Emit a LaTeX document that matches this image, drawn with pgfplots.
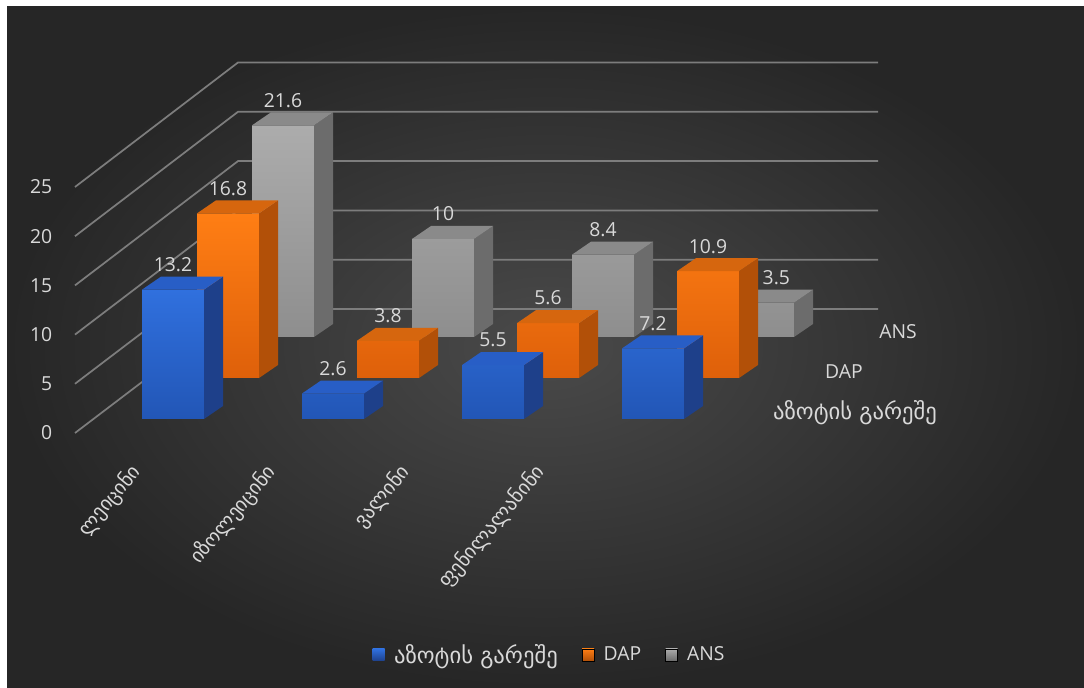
\documentclass[border=0pt]{standalone}
\usepackage{pgfplots}
\usepackage{pgfplotstable}
\pgfplotsset{compat=1.18}
\usepackage{fontspec}
\setmainfont{Open Sans}
\newfontfamily\geo{DejaVu Sans}

\definecolor{txt}{RGB}{217,217,217}
\definecolor{gridc}{RGB}{125,125,125}
\definecolor{bgin}{RGB}{74,74,74}
\definecolor{bgout}{RGB}{38,38,38}
% blue
\definecolor{bT}{RGB}{48,112,222}
\definecolor{bB}{RGB}{34,86,182}
\definecolor{bS}{RGB}{30,64,138}
\definecolor{bP}{RGB}{40,94,198}
% orange
\definecolor{oT}{RGB}{255,126,20}
\definecolor{oB}{RGB}{222,96,10}
\definecolor{oS}{RGB}{178,80,8}
\definecolor{oP}{RGB}{214,102,14}
% gray
\definecolor{gT}{RGB}{172,172,172}
\definecolor{gB}{RGB}{142,142,142}
\definecolor{gS}{RGB}{108,108,108}
\definecolor{gP}{RGB}{138,138,138}

\pgfplotstableread{
x v
0 13.2
1 2.6
2 5.5
3 7.2
}\tabA
\pgfplotstableread{
x v
0 16.8
1 3.8
2 5.6
3 10.9
}\tabB
\pgfplotstableread{
x v
0 21.6
1 10
2 8.4
3 3.5
}\tabC

% side and top faces of a 3D bar, drawn at the top-front-centre of each bar
\newcommand\defcube[3]{%
 \pgfdeclareplotmark{#1}{%
   \pgfmathsetmacro\hha{-\barh*7.35}%
   \pgfmathsetmacro\hhb{9.75-\barh*7.35}%
   \pgfsetfillcolor{#2}%
   \pgfpathmoveto{\pgfqpoint{23.25pt}{0pt}}%
   \pgfpathlineto{\pgfqpoint{37.5pt}{9.75pt}}%
   \pgfpathlineto{\pgfpoint{37.5pt}{\hhb pt}}%
   \pgfpathlineto{\pgfpoint{23.25pt}{\hha pt}}%
   \pgfpathclose
   \pgfusepath{fill}%
   \pgfsetfillcolor{#3}%
   \pgfpathmoveto{\pgfqpoint{-23.25pt}{0pt}}%
   \pgfpathlineto{\pgfqpoint{23.25pt}{0pt}}%
   \pgfpathlineto{\pgfqpoint{37.5pt}{9.75pt}}%
   \pgfpathlineto{\pgfqpoint{-9pt}{9.75pt}}%
   \pgfpathclose
   \pgfusepath{fill}%
 }}
\defcube{cubeA}{bS}{bP}
\defcube{cubeB}{oS}{oP}
\defcube{cubeC}{gS}{gP}

\newcommand\lbl{\fontsize{14.5}{17}\selectfont}
\newcommand\glbl{\geo\fontsize{15}{18}\selectfont}
\newcommand\gleg{\geo\fontsize{17}{20}\selectfont}

\pgfplotsset{
 rowax/.style={anchor=south west, width=480pt, height=183.75pt, scale only axis,
   xmin=-0.5, xmax=3.5, ymin=0, ymax=25, hide axis, clip=false,
   /pgf/number format/assume math mode=true},
 frontbar/.style 2 args={ybar, bar width=0.3875, draw=none, top color=#1, bottom color=#2,
   nodes near coords,
   visualization depends on={rawx \as \rx},
   nodes near coords style={font=\lbl, text=txt, anchor=center, yshift=18.75pt}},
 cubes/.style={scatter, only marks, mark=#1, forget plot,
   visualization depends on={rawy \as \barh}},
}

\begin{document}
\begin{tikzpicture}
\useasboundingbox (0,0) rectangle (813pt,516pt);
\fill[white] (0,0) rectangle (813pt,516pt);
\shade[inner color=bgin, outer color=bgout] (5.25pt,0pt) rectangle (813pt,510.75pt);

\begin{scope}[x=0.75pt,y=-0.75pt,yshift=516pt]
 % walls
 \foreach \k in {0,...,5}{
   \draw[gridc, line width=1.3pt] (75,{433-49.2*\k}) -- (238,{309-49.3*\k}) -- (878,{309-49.3*\k});
   \pgfmathtruncatemacro\lab{5*\k}
   \node[anchor=east, text=txt, font=\lbl] at (57,{433-49.2*\k}) {\lab};
 }
 % series names on the depth axis
 \node[text=txt, font=\lbl] at (898,332) {ANS};
 \node[text=txt, font=\lbl] at (844,372) {DAP};
 \node[text=txt, font=\gleg] at (855,413) {აზოტის გარეშე};
 % category names
 \node[text=txt, font=\glbl, rotate=50, anchor=east] at (140,465) {ლეიცინი};
 \node[text=txt, font=\glbl, rotate=50, anchor=east] at (275,465) {იზოლეიცინი};
 \node[text=txt, font=\glbl, rotate=50, anchor=east] at (409,465) {ვალინი};
 \node[text=txt, font=\glbl, rotate=50, anchor=east] at (544,465) {ფენილალანინი};
\end{scope}

% back row: ANS
\begin{axis}[rowax, at={(152.25pt,263.25pt)}]
 \addplot[frontbar={gT}{gB},
   nodes near coords style={xshift={(\rx==3)*10pt}}] table[x=x,y=v]{\tabC};
 \addplot[cubes=cubeC] table[x=x,y=v]{\tabC};
\end{axis}
% middle row: DAP
\begin{axis}[rowax, at={(111pt,232.5pt)}]
 \addplot[frontbar={oT}{oB}] table[x=x,y=v]{\tabB};
 \addplot[cubes=cubeB] table[x=x,y=v]{\tabB};
\end{axis}
% front row
\begin{axis}[rowax, at={(69.75pt,201.75pt)},
  legend style={at={(0.714,-0.963)}, anchor=center, draw=none, fill=none,
    text=txt, font=\lbl, legend columns=-1,
    /tikz/every odd column/.append style={column sep=5pt},
    /tikz/every even column/.append style={column sep=16pt}},
  legend cell align=left]
 \addplot[frontbar={bT}{bB},
   legend image code/.code={\shade[top color=bT, bottom color=bS] (0pt,-4.5pt) rectangle (9pt,4.5pt);}]
   table[x=x,y=v]{\tabA};
 \addplot[cubes=cubeA] table[x=x,y=v]{\tabA};
 \addlegendimage{legend image code/.code={\shade[top color=oT, bottom color=oS] (0pt,-4.5pt) rectangle (9pt,4.5pt);}}
 \addlegendimage{legend image code/.code={\shade[top color=gT, bottom color=gS] (0pt,-4.5pt) rectangle (9pt,4.5pt);}}
 \legend{{\gleg აზოტის გარეშე},DAP,ANS}
\end{axis}
\end{tikzpicture}
\end{document}
